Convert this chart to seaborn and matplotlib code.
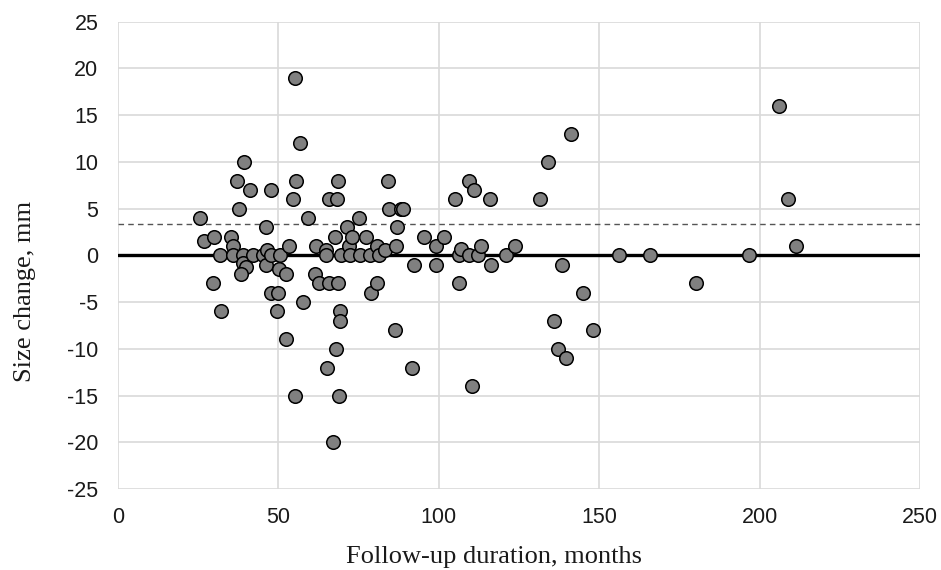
import matplotlib
matplotlib.use("Agg")
import matplotlib.pyplot as plt
import seaborn as sns
import pandas as pd

months = [25.5, 26.8, 30.1, 29.8, 31.8, 32.2, 35.3, 36.0, 36.0, 37.3,
          37.8, 38.9, 39.3, 39.0, 40.0, 38.3, 41.3, 42.2, 45.3, 46.2,
          46.4, 46.2, 47.7, 47.9, 47.9, 50.5, 50.3, 50.0, 49.7, 52.4,
          52.4, 53.4, 55.4, 54.7, 55.7, 55.2, 56.7, 57.6, 59.4, 61.7,
          61.4, 62.8, 64.8, 64.8, 65.9, 65.9, 65.2, 67.6, 68.7, 68.2,
          68.0, 67.1, 68.7, 69.2, 69.2, 68.9, 69.7, 71.5, 72.1, 72.5,
          73.1, 75.3, 75.4, 77.3, 78.5, 79.0, 80.8, 80.8, 81.4, 83.2,
          84.2, 84.4, 86.6, 86.3, 86.9, 88.4, 88.9, 91.7, 92.3, 95.6,
          99.3, 99.3, 101.6, 105.0, 106.3, 106.5, 107.1, 109.4, 109.6, 111.0,
          110.5, 112.4, 113.3, 115.9, 116.4, 121.1, 123.7, 131.7, 134.2, 136.1,
          137.1, 138.4, 139.7, 141.3, 145.1, 148.0, 156.1, 165.9, 180.2, 196.8,
          206.1, 208.8, 211.5]
size_change = [4, 1.5, 2, -3, 0, -6, 2, 1, 0, 8,
               5, 0, 10, -0.8, -1.2, -2, 7, 0, 0, 3,
               0.6, -1, 7, 0, -4, 0, -1.5, -4, -6, -2,
               -9, 1, 19, 6, 8, -15, 12, -5, 4, 1,
               -2, -3, 0.6, 0, 6, -3, -12, 2, 8, 6,
               -10, -20, -3, -6, -7, -15, 0, 3, 1, 0,
               2, 4, 0, 2, 0, -4, 1, -3, 0, 0.6,
               8, 5, 1, -8, 3, 5, 5, -12, -1, 2,
               1, -1, 2, 6, -3, 0, 0.7, 8, 0, 7,
               -14, 0, 1, 6, -1, 0, 1, 6, 10, -7,
               -10, -1, -11, 13, -4, -8, 0, 0, -3, 0,
               16, 6, 1]
dashed_level = 3.4
x_ticks = [0, 50, 100, 150, 200, 250]
y_ticks = [-25, -20, -15, -10, -5, 0, 5, 10, 15, 20, 25]
x_label = "Follow-up duration, months"
y_label = "Size change, mm"

df = pd.DataFrame({"months": months, "change": size_change})

sns.set_theme(style="white")
plt.rcParams["font.family"] = ["Liberation Sans", "DejaVu Sans"]
plt.rcParams["axes.unicode_minus"] = False

W, H = 941, 570
fig = plt.figure(figsize=(W / 100, H / 100), dpi=100)
ax = fig.add_axes([117.7 / W, 1 - 489.0 / H, (920 - 117.7) / W, (489.0 - 21.7) / H])

for xv in x_ticks:
    ax.axvline(xv, color="#d9d9d9", lw=1.2, zorder=0)
for yv in y_ticks:
    ax.axhline(yv, color="#d9d9d9", lw=1.2, zorder=0)

ax.axhline(0, color="black", lw=2.4, zorder=1)
ax.axhline(dashed_level, color="#555555", lw=1.0, ls=(0, (4, 3)), zorder=1)

sns.scatterplot(data=df, x="months", y="change", ax=ax, s=95,
                color="#808080", edgecolor="black", linewidth=1.1,
                zorder=3, legend=False)

ax.set_xlim(0, 250)
ax.set_ylim(-25, 25)
ax.set_xticks(x_ticks)
ax.set_yticks(y_ticks)
for sp in ax.spines.values():
    sp.set_visible(False)
ax.tick_params(axis="x", length=0, pad=13, labelsize=15.5, colors="#1a1a1a")
ax.tick_params(axis="y", length=0, pad=14, labelsize=15.5, colors="#1a1a1a")
ax.set_xlabel("")
ax.set_ylabel("")

serif = ["Liberation Serif", "DejaVu Serif"]
fig.text(494 / W, 1 - 557 / H, x_label, ha="center", va="center",
         fontsize=19, family=serif, color="#1a1a1a")
fig.text(25 / W, 1 - 291 / H, y_label, ha="center", va="center",
         rotation=90, fontsize=19, family=serif, color="#1a1a1a")

fig.savefig("out.png", dpi=100)
